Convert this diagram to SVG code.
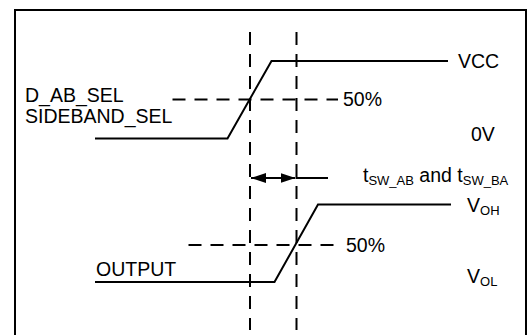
<svg xmlns="http://www.w3.org/2000/svg" width="528" height="335" viewBox="0 0 528 335">
<style>
text{font-family:"Liberation Sans",Arial,sans-serif;font-size:19.5px;fill:#000}
.sub{font-size:13px}
.sig{fill:none;stroke:#000;stroke-width:2}
.dash{fill:none;stroke:#000;stroke-width:2;stroke-dasharray:13 9}
</style>
<defs>
<marker id="ah" viewBox="0 0 15 10" refX="15" refY="5" markerWidth="15" markerHeight="10" markerUnits="userSpaceOnUse" orient="auto-start-reverse">
<path d="M0,0 L15,5 L0,10 Z" fill="#000"/>
</marker>
</defs>
<rect x="15" y="10" width="511" height="340" fill="#fff" stroke="#000" stroke-width="2"/>
<g id="connectors">
<line class="dash" x1="250" y1="32" x2="250" y2="330"/>
<line class="dash" x1="296.5" y1="32" x2="296.5" y2="330"/>
<line class="dash" x1="172.5" y1="99.5" x2="338" y2="99.5"/>
<line class="dash" x1="188.5" y1="245" x2="338" y2="245"/>
<line x1="251" y1="178" x2="295.5" y2="178" stroke="#000" stroke-width="2" marker-start="url(#ah)" marker-end="url(#ah)"/>
<line x1="296" y1="178" x2="328" y2="178" stroke="#000" stroke-width="2"/>
</g>
<g id="input-signal">
<polyline class="sig" points="95,138.5 227.5,138.5 271.5,61 448,61"/>
<text x="25" y="102">D_AB_SEL</text>
<text x="25" y="123">SIDEBAND_SEL</text>
<text x="458" y="68">VCC</text>
<text x="343" y="106">50%</text>
<text x="471" y="141">0V</text>
</g>
<g id="output-signal">
<polyline class="sig" points="95,282 274.5,282 318,204.5 451,204.5"/>
<text x="96" y="276">OUTPUT</text>
<text x="467" y="212">V<tspan class="sub" dy="3">OH</tspan></text>
<text x="346" y="252">50%</text>
<text x="467" y="283">V<tspan class="sub" dy="3">OL</tspan></text>
</g>
<g id="timing-label">
<text x="363" y="182">t<tspan class="sub" dy="3">SW_AB</tspan><tspan dy="-3"> and t</tspan><tspan class="sub" dy="3">SW_BA</tspan></text>
</g>
</svg>
